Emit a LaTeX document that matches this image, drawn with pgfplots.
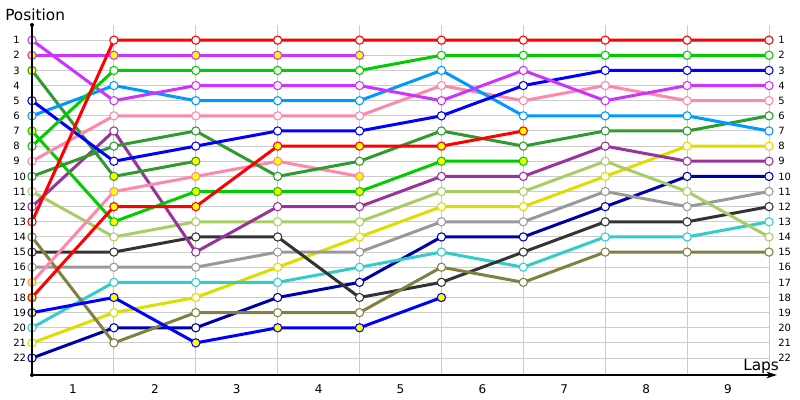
\documentclass[border=0pt]{standalone}
\usepackage{pgfplots}
\pgfplotsset{compat=1.18}
\usepackage{fontspec}
\setmainfont{DejaVu Sans}
\usetikzlibrary{arrows.meta}
\definecolor{cRed}{HTML}{FF0000}
\definecolor{cViolet}{HTML}{CC33FF}
\definecolor{cGreen}{HTML}{00CC00}
\definecolor{cDkGreen}{HTML}{2E9B2E}
\definecolor{cBlue}{HTML}{0000FF}
\definecolor{cLtBlue}{HTML}{0099FF}
\definecolor{cPink}{HTML}{FF88AA}
\definecolor{cPurple}{HTML}{993399}
\definecolor{cLtOlive}{HTML}{AACC66}
\definecolor{cOlive}{HTML}{808040}
\definecolor{cDkGray}{HTML}{333333}
\definecolor{cGray}{HTML}{999999}
\definecolor{cCyan}{HTML}{33CCCC}
\definecolor{cYellow}{HTML}{DDDD00}
\definecolor{cDkBlue}{HTML}{0000AA}
\definecolor{cFill}{HTML}{FFFF00}
\definecolor{cGrid}{HTML}{CCCCCC}
\pgfplotsset{ser/.style 2 args={color=#1, line width=2.25pt, mark=*, mark size=3.1pt,
  mark options={fill=#2, draw=#1, line width=0.8pt, solid}}}
\begin{document}
\begin{tikzpicture}
\useasboundingbox (0,0) rectangle (600pt,300pt);
\begin{axis}[at={(24pt,18.75pt)}, anchor=south west, scale only axis,
  width=552.75pt, height=262.5pt,
  xmin=0, xmax=9, ymin=0, ymax=23.12, y dir=reverse, clip=false,
  axis line style={draw=none},
  xtick={0.5,1.5,2.5,3.5,4.5,5.5,6.5,7.5,8.5},
  xticklabels={1,2,3,4,5,6,7,8,9},
  minor xtick={1,2,3,4,5,6,7,8,9}, xminorgrids=true,
  ytick={1,2,...,22}, ymajorgrids=true,
  major tick length=0pt, minor tick length=0pt,
  grid style={draw=cGrid, line width=0.75pt},
  minor grid style={draw=cGrid, line width=0.75pt},
  yticklabel style={font=\fontsize{7.5}{9}\selectfont},
  xticklabel style={font=\fontsize{9}{11}\selectfont},
  /pgf/number format/assume math mode=true,
  yticklabel style={anchor=west, inner sep=0pt, xshift=-14.25pt},
  xticklabel style={anchor=north, inner sep=0pt, yshift=-7.2pt},
]
\addplot[ser={cDkBlue}{white}] coordinates {(0,22)(1,20)(2,20)(3,18)(4,17)(5,14)(6,14)(7,12)(8,10)(9,10)};
\addplot[ser={cYellow}{white}] coordinates {(0,21)(1,19)(2,18)(3,16)(4,14)(5,12)(6,12)(7,10)(8,8)(9,8)};
\addplot[ser={cCyan}{white}] coordinates {(0,20)(1,17)(2,17)(3,17)(4,16)(5,15)(6,16)(7,14)(8,14)(9,13)};
\addplot[ser={cGray}{white}] coordinates {(0,16)(1,16)(2,16)(3,15)(4,15)(5,13)(6,13)(7,11)(8,12)(9,11)};
\addplot[ser={cDkGray}{white}] coordinates {(0,15)(1,15)(2,14)(3,14)(4,18)(5,17)(6,15)(7,13)(8,13)(9,12)};
\addplot[ser={cOlive}{white}] coordinates {(0,14)(1,21)(2,19)(3,19)(4,19)(5,16)(6,17)(7,15)(8,15)(9,15)};
\addplot[ser={cLtOlive}{white}] coordinates {(0,11)(1,14)(2,13)(3,13)(4,13)(5,11)(6,11)(7,9)(8,11)(9,14)};
\addplot[ser={cPurple}{white}] coordinates {(0,12)(1,7)(2,15)(3,12)(4,12)(5,10)(6,10)(7,8)(8,9)(9,9)};
\addplot[ser={cBlue}{cFill}] coordinates {(0,19)(1,18)(2,21)(3,20)(4,20)(5,18)};
\addplot[ser={cPink}{cFill}] coordinates {(0,17)(1,11)(2,10)(3,9)(4,10)};
\addplot[ser={cDkGreen}{cFill}] coordinates {(0,3)(1,10)(2,9)};
\addplot[ser={cGreen}{cFill}] coordinates {(0,7)(1,13)(2,11)(3,11)(4,11)(5,9)(6,9)};
\addplot[ser={cDkGreen}{white}] coordinates {(0,10)(1,8)(2,7)(3,10)(4,9)(5,7)(6,8)(7,7)(8,7)(9,6)};
\addplot[ser={cPink}{white}] coordinates {(0,9)(1,6)(2,6)(3,6)(4,6)(5,4)(6,5)(7,4)(8,5)(9,5)};
\addplot[ser={cLtBlue}{white}] coordinates {(0,6)(1,4)(2,5)(3,5)(4,5)(5,3)(6,6)(7,6)(8,6)(9,7)};
\addplot[ser={cBlue}{white}] coordinates {(0,5)(1,9)(2,8)(3,7)(4,7)(5,6)(6,4)(7,3)(8,3)(9,3)};
\addplot[ser={cViolet}{cFill}] coordinates {(0,2)(1,2)(2,2)(3,2)(4,2)};
\addplot[ser={cViolet}{white}] coordinates {(0,1)(1,5)(2,4)(3,4)(4,4)(5,5)(6,3)(7,5)(8,4)(9,4)};
\addplot[ser={cGreen}{white}] coordinates {(0,8)(1,3)(2,3)(3,3)(4,3)(5,2)(6,2)(7,2)(8,2)(9,2)};
\addplot[ser={cRed}{cFill}] coordinates {(0,18)(1,12)(2,12)(3,8)(4,8)(5,8)(6,7)};
\addplot[ser={cRed}{white}] coordinates {(0,13)(1,1)(2,1)(3,1)(4,1)(5,1)(6,1)(7,1)(8,1)(9,1)};
\end{axis}
\begin{axis}[at={(24pt,18.75pt)}, anchor=south west, scale only axis,
  width=552.75pt, height=262.5pt,
  xmin=0, xmax=9, ymin=0, ymax=23.12, y dir=reverse,
  hide x axis, axis y line*=right, y axis line style={draw=none},
  ytick={1,2,...,22}, major tick length=0pt,
  tick label style={font=\fontsize{7.5}{9}\selectfont},
  /pgf/number format/assume math mode=true,
  yticklabel style={anchor=west, inner sep=0pt, xshift=6.75pt},
]
\end{axis}
\draw[line width=1.1pt] (24pt,18.75pt) -- (24pt,281.25pt);
\fill (24pt,281.25pt) circle (1.5pt);
\fill (24pt,18.75pt) circle (1.5pt);
\draw[line width=1.1pt, -{Stealth[length=8pt, width=5pt]}] (24pt,18.75pt) -- (582.75pt,18.75pt);
\node[anchor=base west, inner sep=0pt, font=\fontsize{11.5}{13}\selectfont] at (3.75pt,284.25pt) {Position};
\node[anchor=base west, inner sep=0pt, font=\fontsize{11.5}{13}\selectfont] at (557.25pt,22.5pt) {Laps};
\end{tikzpicture}
\end{document}
